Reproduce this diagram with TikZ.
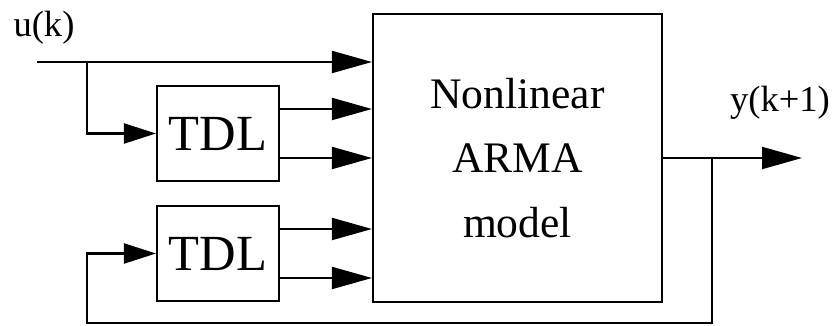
\documentclass[tikz,border=0pt]{standalone}
\usepackage{fontspec}
\setmainfont{Liberation Serif}
\usepackage{tikz}
\usetikzlibrary{arrows.meta, positioning, calc}

\tikzset{
  blk/.style={draw, line width=1.5pt, inner sep=0pt},
  sig/.style={line width=1.5pt, -{Triangle[length=1cm, width=0.55cm]}},
  sigin/.style={line width=1.5pt, -{Triangle[length=0.8cm, width=0.5cm]}},
}

\begin{document}
\begin{tikzpicture}
  \useasboundingbox (0,0) rectangle (20.975,8.15);

  % Blocks
  \node[blk, minimum width=7.225cm, minimum height=7.2cm, align=center,
        font=\fontsize{31}{46}\selectfont] (arma) at (12.9375, 4.2)
        {Nonlinear\\ ARMA\\ model};
  \node[blk, minimum width=3.05cm, minimum height=2.375cm,
        font=\fontsize{36}{40}\selectfont] (tdlu) at (5.45, 4.8125) {TDL};
  \node[blk, minimum width=3.05cm, minimum height=2.375cm,
        font=\fontsize{36}{40}\selectfont] (tdly) at (5.45, 1.8125) {TDL};

  % Labels
  \node[font=\fontsize{26}{30}\selectfont] (ulab) at (1.1, 7.45) {u(k)};
  \node[font=\fontsize{26}{30}\selectfont] (ylab) at (19.5, 5.575) {y(k+1)};

  % Input u(k)
  \coordinate (uin) at (0.925, 6.6);
  \coordinate (ubr) at (2.175, 6.6);
  \draw[sig] (uin) -- (uin -| arma.west);
  \draw[sigin] (ubr) |- (tdlu.west);

  % TDL outputs
  \draw[sig] ([yshift=0.6125cm]tdlu.east) -- ([yshift=0.6125cm]tdlu.east -| arma.west);
  \draw[sig] ([yshift=-0.6125cm]tdlu.east) -- ([yshift=-0.6125cm]tdlu.east -| arma.west);
  \draw[sig] ([yshift=0.6125cm]tdly.east) -- ([yshift=0.6125cm]tdly.east -| arma.west);
  \draw[sig] ([yshift=-0.6125cm]tdly.east) -- ([yshift=-0.6125cm]tdly.east -| arma.west);

  % Output y(k+1) and feedback
  \coordinate (yout) at (20.05, 4.2);
  \coordinate (ybr) at (17.8, 4.2);
  \coordinate (fbl) at (2.175, 0.075);
  \draw[sig] (arma.east) -- (yout);
  \draw[sigin] (ybr) |- (fbl) |- (tdly.west);
\end{tikzpicture}
\end{document}
